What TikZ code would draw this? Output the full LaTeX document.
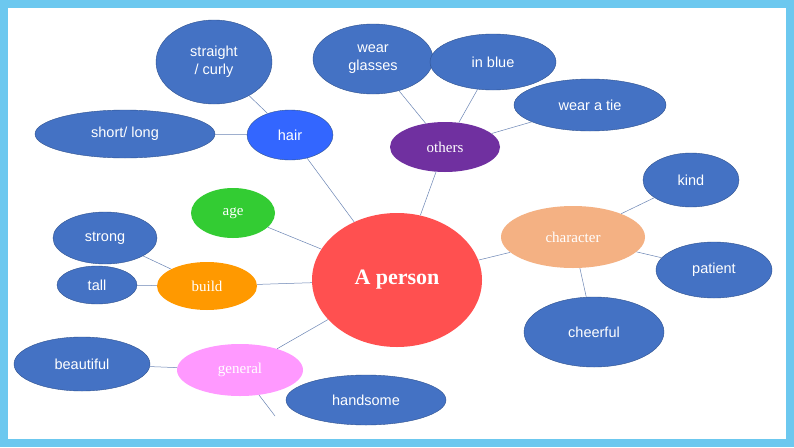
\documentclass[tikz,border=0pt]{standalone}
\usepackage{fontspec}
\setsansfont{Liberation Sans}
\setmainfont{Liberation Serif}
\usetikzlibrary{shapes.geometric}
\definecolor{leaf}{HTML}{4472C4}
\definecolor{leafb}{HTML}{2F528F}
\definecolor{frame}{HTML}{6CC8EF}
\definecolor{conn}{HTML}{6B85B5}
\definecolor{cred}{HTML}{FF5050}
\definecolor{chair}{HTML}{3366FF}
\definecolor{cothers}{HTML}{7030A0}
\definecolor{cchar}{HTML}{F4B183}
\definecolor{cage}{HTML}{33CC33}
\definecolor{cbuild}{HTML}{FF9900}
\definecolor{cgen}{HTML}{FF99FF}
\tikzset{
 el/.style args={#1/#2}{ellipse,inner sep=0pt,minimum width=#1,minimum height=#2},
 leafnode/.style={el=#1,draw=leafb,fill=leaf,text=white,font=\sffamily\fontsize{14.5}{18}\selectfont,align=center},
 hub/.style={el=#1,text=white,font=\fontsize{15}{17}\selectfont},
 conn/.style={draw=conn,line width=0.5pt}
}
\begin{document}
\begin{tikzpicture}[x=1pt,y=-1pt]
\useasboundingbox (0,0) rectangle (794,447);
\fill[frame] (0,0) rectangle (794,447);
\fill[white] (8,8) rectangle (786,439);
% connectors first
\coordinate (gend) at (275,416);
% hubs
\node[hub=170pt/134pt,fill=cred,font=\bfseries\fontsize{22}{24}\selectfont] (p) at (397,280) {A person};
\node[hub=86pt/50pt,fill=chair,draw=leafb,font=\sffamily\fontsize{14.5}{17}\selectfont] (hair) at (290,135) {hair};
\node[hub=110pt/50pt,fill=cothers] (oth) at (445,147) {others};
\node[hub=144pt/62pt,fill=cchar] (ch) at (573,237) {character};
\node[hub=84pt/50pt,fill=cage] (age) at (233,213) {age};
\node[hub=100pt/48pt,fill=cbuild] (bu) at (207,286) {build};
\node[hub=126pt/52pt,fill=cgen] (gen) at (240,370) {general};
% leaves
\node[leafnode=116pt/84pt] (sc) at (214,62) {straight\\/ curly};
\node[leafnode=180pt/48pt] (sl) at (125,134) {short/ long};
\node[leafnode=120pt/70pt] (wg) at (373,59) {wear\\glasses};
\node[leafnode=126pt/56pt] (ib) at (493,62) {in blue};
\node[leafnode=152pt/52pt] (wt) at (590,105) {wear a tie};
\node[leafnode=96pt/54pt] (ki) at (691,180) {kind};
\node[leafnode=116pt/56pt] (pa) at (714,270) {patient};
\node[leafnode=140pt/70pt] (cf) at (594,332) {cheerful};
\node[leafnode=104pt/52pt] (st) at (105,238) {strong};
\node[leafnode=80pt/38pt] (ta) at (97,285) {tall};
\node[leafnode=136pt/54pt] (be) at (82,364) {beautiful};
\node[leafnode=160pt/50pt] (ha) at (366,400) {handsome};
% connectors
\begin{scope}[on background layer/.style={}]
\end{scope}
\draw[conn] (p) -- (hair) (p) -- (oth) (p) -- (ch) (p) -- (age) (p) -- (bu) (p) -- (gen)
 (hair) -- (sc) (hair) -- (sl) (oth) -- (wg) (oth) -- (ib) (oth) -- (wt)
 (ch) -- (ki) (ch) -- (pa) (ch) -- (cf) (bu) -- (st) (bu) -- (ta) (gen) -- (be) (gen) -- (gend);
\end{tikzpicture}
\end{document}
